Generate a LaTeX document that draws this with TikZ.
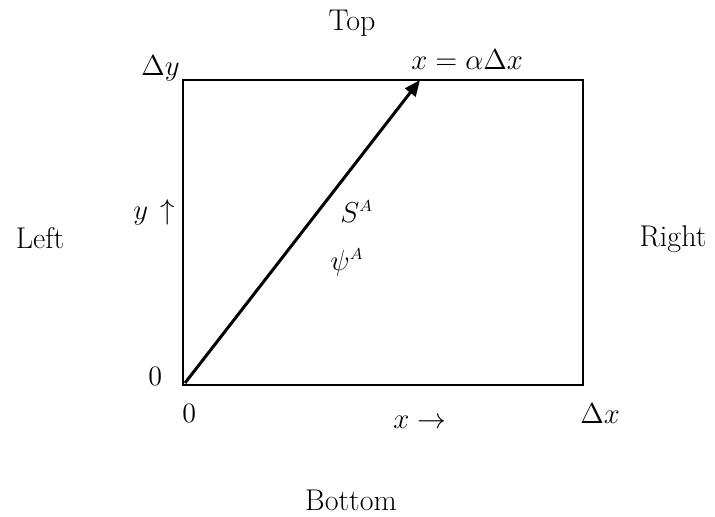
\documentclass[tikz,border=0pt]{standalone}
\usetikzlibrary{arrows.meta}
\begin{document}
\begin{tikzpicture}[x=0.5pt,y=-0.5pt,
  lbl/.style={inner sep=0pt,font=\fontsize{15}{18}\selectfont},
  mth/.style={inner sep=0pt,font=\fontsize{15.5}{18}\selectfont},
  box/.style={draw,line width=1pt},
  vec/.style={line width=1.5pt,-{Triangle[length=8pt,width=6.5pt]}}]
\useasboundingbox (0,0) rectangle (715,516);
\coordinate (o) at (183,385);
\coordinate (tr) at (583,80);
\coordinate (tip) at (420,80);
\coordinate (start) at (185,383);
\draw[box] (o) rectangle (tr);
\draw[vec] (start) -- (tip);
\node[lbl,anchor=base] (top) at (352,30) {Top};
\node[lbl,anchor=base] (bottom) at (351,510) {Bottom};
\node[lbl,anchor=base] (left) at (40,248) {Left};
\node[lbl,anchor=base] (right) at (673,246) {Right};
\node[mth,anchor=base east] (dy) at (180,75) {$\Delta y$};
\node[mth,anchor=base west] (xeq) at (411,69) {$x=\alpha\Delta x$};
\node[mth,anchor=base west] (yup) at (133,219) {$y\,\uparrow$};
\node[mth,anchor=base west] (sa) at (340,222) {$S^{\scriptscriptstyle A}$};
\node[mth,anchor=base west] (pa) at (330,270) {$\psi^{\scriptscriptstyle A}$};
\node[mth,anchor=base west,font=\fontsize{14}{16}\selectfont] (z1) at (148,385) {0};
\node[mth,anchor=base west,font=\fontsize{14}{16}\selectfont] (z2) at (182,422) {0};
\node[mth,anchor=base west] (xr) at (393,428) {$x\rightarrow$};
\node[mth,anchor=base west] (dx) at (580,423) {$\Delta x$};
\end{tikzpicture}
\end{document}
